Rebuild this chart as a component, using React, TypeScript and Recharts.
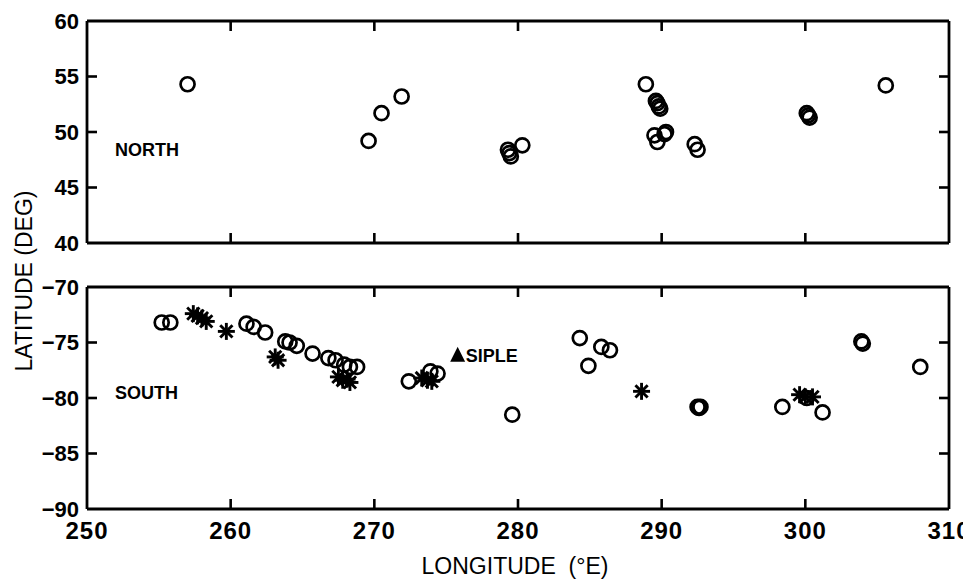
import React from "react";
import { ScatterChart, Scatter, XAxis, YAxis, ReferenceLine } from "recharts";

// ---- data (longitude °E, latitude deg) ----
const northCircleLon = [257.0, 269.6, 270.5, 271.9, 279.3, 279.5, 279.4, 280.3, 288.9, 289.6, 289.7, 289.8, 289.9, 289.5, 289.7, 290.3, 290.2, 292.3, 292.5, 300.1, 300.2, 300.3, 305.6];
const northCircleLat = [54.3, 49.2, 51.7, 53.2, 48.4, 47.8, 48.1, 48.8, 54.3, 52.8, 52.6, 52.3, 52.1, 49.7, 49.1, 50.0, 49.8, 48.9, 48.4, 51.7, 51.5, 51.3, 54.2];

const southCircleLon = [255.2, 255.8, 261.1, 261.6, 262.4, 263.8, 264.1, 264.6, 265.7, 266.8, 267.3, 267.9, 268.3, 268.8, 272.4, 273.9, 274.4, 279.6, 284.3, 284.9, 285.8, 286.4, 292.5, 292.6, 292.7, 298.4, 300.1, 301.2, 303.9, 304.0, 308.0];
const southCircleLat = [-73.2, -73.2, -73.3, -73.6, -74.1, -74.9, -75.0, -75.3, -76.0, -76.4, -76.6, -77.0, -77.2, -77.2, -78.5, -77.6, -77.8, -81.5, -74.6, -77.1, -75.4, -75.7, -80.8, -80.9, -80.8, -80.8, -80.0, -81.3, -74.9, -75.1, -77.2];

const southStarLon = [257.4, 257.7, 258.0, 258.3, 259.7, 263.1, 263.3, 267.5, 267.8, 268.1, 268.3, 273.3, 273.7, 274.0, 288.6, 299.6, 300.0, 300.5];
const southStarLat = [-72.4, -72.6, -72.8, -73.1, -74.0, -76.3, -76.6, -78.1, -78.4, -78.3, -78.6, -78.2, -78.4, -78.5, -79.4, -79.7, -79.9, -79.9];

const sipleLon = [275.8];
const sipleLat = [-76.1];
const sipleName = ["SIPLE"];

const lonTicks = [250, 260, 270, 280, 290, 300, 310];
const lonInnerTicks = [260, 270, 280, 290, 300];
const northLatTicks = [40, 45, 50, 55, 60];
const southLatTicks = [-90, -85, -80, -75, -70];

const zip = (xs: number[], ys: number[]) => xs.map((x, i) => ({ x, y: ys[i] }));
const northCircles = zip(northCircleLon, northCircleLat);
const southCircles = zip(southCircleLon, southCircleLat);
const southStars = zip(southStarLon, southStarLat);
const siple = sipleLon.map((x, i) => ({ x, y: sipleLat[i], name: sipleName[i] }));

const FONT = "'Liberation Sans', Arial, sans-serif";
const fmt = (v: number) => (v < 0 ? "\u2212" + Math.abs(v) : String(v));

const CircleMark = (p: any) => (
  <circle cx={p.cx} cy={p.cy} r={7} fill="none" stroke="#000" strokeWidth={2.7} />
);
const StarMark = (p: any) => {
  const r = 8.5;
  const d = r * 0.72;
  const { cx, cy } = p;
  return (
    <g stroke="#000" strokeWidth={2.9}>
      <line x1={cx - r} y1={cy} x2={cx + r} y2={cy} />
      <line x1={cx} y1={cy - r} x2={cx} y2={cy + r} />
      <line x1={cx - d} y1={cy - d} x2={cx + d} y2={cy + d} />
      <line x1={cx - d} y1={cy + d} x2={cx + d} y2={cy - d} />
    </g>
  );
};
const SipleMark = (p: any) => {
  const { cx, cy } = p;
  return (
    <g>
      <path d={`M${cx - 7.5},${cy + 7} L${cx},${cy - 8} L${cx + 7.5},${cy + 7} Z`} fill="#000" />
      <text x={cx + 8} y={cy + 7} fontFamily={FONT} fontWeight="bold" fontSize={18} fill="#000">
        {p.payload?.name ?? "SIPLE"}
      </text>
    </g>
  );
};

// inward frame tick marks, placed at tick values through the chart scales
const TICK_PX = 10;
const tickMark = (ddx: number, ddy: number) => (p: any) => {
  const x0 = Number(p.cx);
  const y0 = Number(p.cy);
  return (
    <path
      d={`M${x0},${y0} L${x0 + ddx * TICK_PX},${y0 + ddy * TICK_PX}`}
      stroke="#000"
      strokeWidth={2.6}
      fill="none"
    />
  );
};
const TickDown = tickMark(0, 1);
const TickUp = tickMark(0, -1);
const TickRight = tickMark(1, 0);
const TickLeft = tickMark(-1, 0);

const axisLine = { stroke: "#000", strokeWidth: 2.8 };
const yTickStyle = { fontFamily: FONT, fontWeight: "bold", fontSize: 22, fill: "#000" } as any;
const xTickStyle = { fontFamily: FONT, fontWeight: "bold", fontSize: 24, fill: "#000", letterSpacing: 1 } as any;

const X_MIN = 250;
const X_MAX = 310;

function Panel(props: {
  width: number;
  height: number;
  top: number;
  bottom: number;
  yDomain: [number, number];
  yTicks: number[];
  showX: boolean;
  children: React.ReactNode;
}) {
  const { width, height, top, bottom, yDomain, yTicks, showX } = props;
  const [yMin, yMax] = yDomain;
  const innerY = yTicks.filter((v) => v > yMin && v < yMax);
  const topTicks = lonInnerTicks.map((v) => ({ x: v, y: yMax }));
  const bottomTicks = lonInnerTicks.map((v) => ({ x: v, y: yMin }));
  const leftTicks = innerY.map((v) => ({ x: X_MIN, y: v }));
  const rightTicks = innerY.map((v) => ({ x: X_MAX, y: v }));
  return (
    <ScatterChart width={width} height={height} margin={{ top, right: 22, bottom, left: 0 }}>
      <XAxis
        dataKey="x"
        type="number"
        domain={[X_MIN, X_MAX]}
        ticks={lonTicks}
        tickLine={false}
        tickMargin={7}
        tick={showX ? xTickStyle : false}
        tickFormatter={fmt}
        height={showX ? 40 : 1}
        axisLine={axisLine}
        interval={0}
      />
      <YAxis
        dataKey="y"
        type="number"
        domain={yDomain}
        ticks={yTicks}
        tickLine={false}
        tickMargin={2}
        tick={yTickStyle}
        tickFormatter={fmt}
        width={87}
        axisLine={axisLine}
        interval={0}
      />
      {/* frame: top and right edges */}
      <ReferenceLine y={yMax} stroke="#000" strokeWidth={2.8} ifOverflow="visible" />
      <ReferenceLine x={X_MAX} stroke="#000" strokeWidth={2.8} ifOverflow="visible" />
      {props.children}
      {/* inward tick marks on all four edges */}
      <Scatter data={topTicks} shape={TickDown} isAnimationActive={false} />
      <Scatter data={bottomTicks} shape={TickUp} isAnimationActive={false} />
      <Scatter data={leftTicks} shape={TickRight} isAnimationActive={false} />
      <Scatter data={rightTicks} shape={TickLeft} isAnimationActive={false} />
    </ScatterChart>
  );
}

export default function App() {
  return (
    <div style={{ position: "relative", width: 971, height: 581, marginLeft: -8, marginTop: -8, background: "#fff" }}>
      <div style={{ position: "absolute", left: 0, top: 0 }}>
        <Panel width={971} height={260} top={21} bottom={16} yDomain={[40, 60]} yTicks={northLatTicks} showX={false}>
          <Scatter data={northCircles} shape={CircleMark} isAnimationActive={false} />
        </Panel>
      </div>
      <div style={{ position: "absolute", left: 0, top: 260 }}>
        <Panel width={971} height={321} top={27} bottom={32} yDomain={[-90, -70]} yTicks={southLatTicks} showX={true}>
          <Scatter data={southCircles} shape={CircleMark} isAnimationActive={false} />
          <Scatter data={southStars} shape={StarMark} isAnimationActive={false} />
          <Scatter data={siple} shape={SipleMark} isAnimationActive={false} />
        </Panel>
      </div>
      <svg width={971} height={581} style={{ position: "absolute", left: 0, top: 0, pointerEvents: "none" }}>
        <text x={115} y={156} fontFamily={FONT} fontWeight="bold" fontSize={18} fill="#000">NORTH</text>
        <text x={115} y={399} fontFamily={FONT} fontWeight="bold" fontSize={18} fill="#000">SOUTH</text>
        <text
          x={32}
          y={281}
          transform="rotate(-90, 32, 281)"
          textAnchor="middle"
          fontFamily={FONT}
          fontSize={23}
          fill="#000"
          style={{ whiteSpace: "pre" }}
        >
          LATITUDE (DEG)
        </text>
        <text x={515} y={574} textAnchor="middle" fontFamily={FONT} fontSize={23} fill="#000" style={{ whiteSpace: "pre" }}>
          {"LONGITUDE  (\u00B0E)"}
        </text>
      </svg>
    </div>
  );
}
